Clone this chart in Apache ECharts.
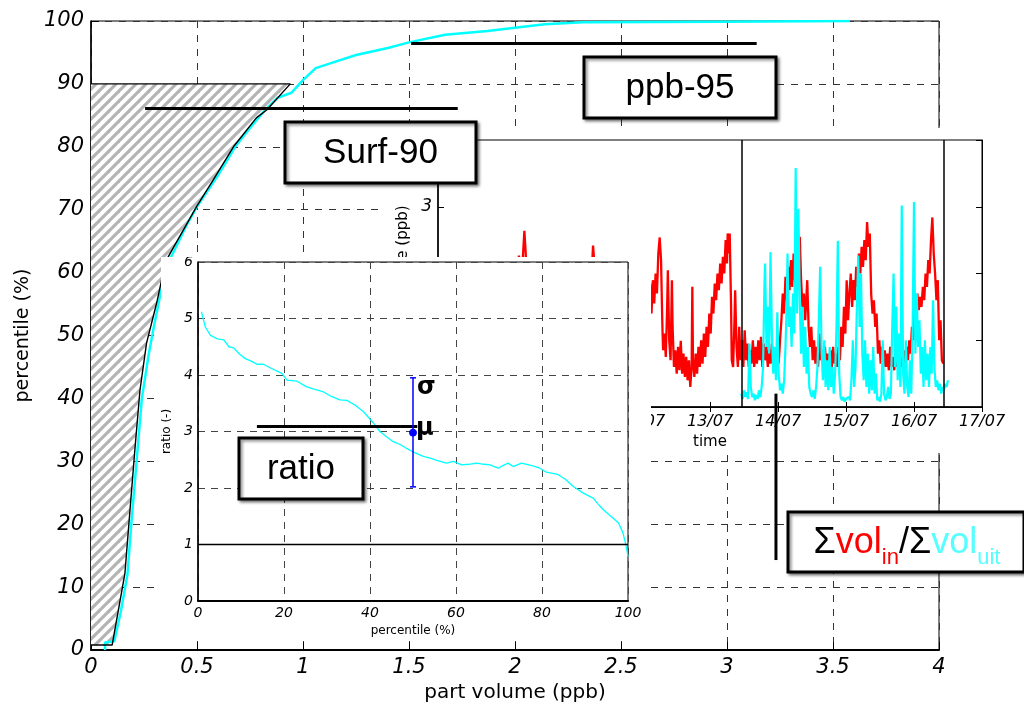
<!DOCTYPE html>
<html><head><meta charset="utf-8">
<script src="https://cdn.jsdelivr.net/npm/echarts@6/dist/echarts.min.js"></script>
<style>
html,body{margin:0;padding:0;background:#fff;}
#wrap{position:relative;width:1024px;height:707px;overflow:hidden;background:#fff;}
.layer{position:absolute;}
</style></head><body>
<div id="wrap">
 <div id="main" class="layer" style="left:0;top:0;width:1024px;height:707px"></div>
 <div id="ts" class="layer" style="left:385px;top:128px;width:639px;height:325px;background:#fff"></div>
 <div id="ratio" class="layer" style="left:161px;top:257px;width:490px;height:384px;background:#fff"></div>
 <div id="over" class="layer" style="left:0;top:0;width:1024px;height:707px"></div>
</div>
<script>
// ---------------- DATA ----------------
// main chart: cumulative distribution of particle volume (ppb -> percentile)
const cdfCurve = [[0.066,0],[0.066,1.2],[0.11,1.4],[0.14,6],[0.172,12],[0.19,20],[0.215,30],[0.24,40],[0.272,47],[0.3,52],[0.33,57],[0.355,61],[0.4,64],[0.45,67.5],[0.5,70.5],[0.55,73],[0.6,75.5],[0.68,80],[0.75,83],[0.82,85.8],[0.88,87.8],[0.946,88.6],[1.0,90.6],[1.06,92.5],[1.15,93.5],[1.25,94.6],[1.4,95.7],[1.5,96.6],[1.67,97.8],[1.87,98.4],[1.99,98.9],[2.14,99.5],[2.32,99.8],[2.97,99.9],[3.58,100]];
// boundary of hatched "Surf-90" area
const surfBoundary = [[0,0.8],[0.1,0.8],[0.16,12.2],[0.208,32.3],[0.231,41.3],[0.262,48.8],[0.31,55.2],[0.34,59.9],[0.364,62.5],[0.498,70.5],[0.576,74.7],[0.672,80],[0.78,84.6],[0.83,85.9],[0.94,90],[0,90]];
const mainXTicks = [0,0.5,1,1.5,2,2.5,3,3.5,4];
const ppbPointer = [[1.51,96.4],[3.14,96.4]];
const surfPointer = [[0.255,86.1],[1.73,86.1]];

// time series inset (day of July, ppb)
const dayLabels = ['09/07','10/07','11/07','12/07','13/07','14/07','15/07','16/07','17/07'];
const periodBounds = [13.46, 16.44];
const redIn = [[9.05,1.2],[9.15,0.9],[9.25,0.7],[9.35,0.6],[9.45,0.8],[9.55,0.7],[9.65,1.0],[9.75,0.9],[9.85,1.3],[9.95,1.5],[10.05,1.4],[10.12,1.8],[10.17,2.0],[10.19,2.27],[10.21,1.9],[10.24,2.1],[10.27,2.64],[10.29,2.3],[10.31,1.6],[10.38,1.2],[10.5,0.8],[10.6,0.7],[10.7,0.6],[10.8,0.8],[10.9,1.0],[11.0,1.3],[11.1,1.6],[11.2,1.9],[11.26,2.0],[11.28,2.42],[11.3,2.15],[11.34,1.7],[11.45,1.0],[11.55,0.8],[11.65,0.7],[11.75,0.6],[11.85,0.8],[11.95,1.1],[12.05,1.4],
[12.10,1.35],[12.12,1.85],[12.14,1.4],[12.16,1.9],[12.18,1.55],[12.20,2.0],[12.22,1.7],[12.24,2.3],[12.26,2.54],[12.28,2.2],[12.30,1.2],[12.31,0.85],[12.33,1.1],[12.35,0.75],[12.37,1.5],[12.38,2.05],[12.40,1.0],[12.42,0.7],[12.44,1.9],[12.45,1.2],[12.47,0.6],[12.49,0.85],[12.51,0.5],[12.53,0.9],[12.55,0.55],[12.57,0.99],[12.59,0.5],[12.61,0.8],[12.63,0.45],[12.65,0.75],[12.67,0.4],[12.69,0.7],[12.71,0.3],[12.73,0.6],[12.74,1.8],[12.75,0.7],[12.77,0.45],[12.79,0.8],[12.81,0.5],[12.83,0.9],[12.85,0.6],[12.87,1.0],[12.89,0.65],[12.91,1.1],[12.93,0.75],[12.95,1.2],[12.97,0.9],[12.99,1.4],[13.01,1.1],[13.03,1.65],[13.05,1.4],[13.07,1.85],[13.09,1.6],[13.11,2.0],[13.13,1.75],[13.15,2.15],[13.17,1.85],[13.19,2.25],[13.21,2.0],[13.23,2.5],[13.25,2.15],[13.26,2.6],[13.28,2.3],[13.29,2.6],[13.31,1.5],[13.32,0.7],[13.34,0.6],[13.36,1.3],[13.37,1.75],[13.39,0.9],[13.41,0.6],[13.43,1.2],[13.45,0.7],
[13.47,1.0],[13.49,0.6],[13.51,1.15],[13.53,0.7],[13.55,0.95],[13.57,0.6],[13.59,0.85],[13.61,0.65],[13.63,1.0],[13.65,0.6],[13.67,0.9],[13.69,0.65],[13.71,1.0],[13.73,0.7],[13.75,1.05],[13.77,0.6],[13.79,0.95],[13.81,0.7],[13.83,0.9],[13.85,0.6],[13.87,0.85],[13.89,0.65],[13.91,0.95],[13.93,0.6],[13.95,0.8],[13.97,0.6],[13.99,0.85],[14.01,0.65],[14.03,1.0],[14.05,1.3],[14.07,1.7],[14.09,1.4],[14.11,1.95],[14.13,1.6],[14.15,2.1],[14.17,1.75],[14.19,2.2],[14.21,1.8],[14.23,2.3],[14.25,1.9],[14.27,2.2],[14.29,2.0],[14.32,2.55],[14.34,1.9],[14.36,1.5],[14.38,1.7],[14.40,1.3],[14.43,1.9],[14.45,1.2],[14.47,0.9],[14.49,1.2],[14.51,0.7],[14.53,1.0],[14.55,0.65],[14.57,0.9],[14.59,0.6],[14.61,1.1],[14.63,0.7],[14.65,0.85],[14.67,0.6],[14.69,0.9],[14.71,0.6],[14.73,0.8],[14.75,0.55],[14.77,0.85],[14.79,0.6],[14.81,0.9],[14.83,0.65],[14.85,0.8],[14.87,0.6],[14.89,0.9],[14.91,0.7],[14.93,1.2],[14.95,0.9],[14.97,1.5],[14.99,1.1],[15.01,1.9],[15.03,1.3],[15.05,1.7],[15.07,2.0],[15.09,1.5],[15.11,1.9],[15.13,1.6],[15.15,2.1],[15.17,1.8],[15.19,2.3],[15.21,2.0],[15.23,2.4],[15.25,2.1],[15.27,2.5],[15.29,2.2],[15.31,2.77],[15.33,2.4],[15.35,2.6],[15.37,1.7],[15.39,1.4],[15.41,1.6],[15.43,1.2],[15.45,1.4],[15.47,0.8],[15.49,1.0],[15.51,0.65],[15.53,0.9],[15.55,0.6],[15.57,0.85],[15.59,0.6],[15.61,0.8],[15.63,0.55],[15.65,0.9],[15.67,0.6],[15.69,0.75],[15.71,0.55],[15.73,0.85],[15.75,0.6],[15.77,0.8],[15.79,0.55],[15.81,0.75],[15.83,0.6],[15.85,0.85],[15.87,0.6],[15.89,0.9],[15.91,0.7],[15.93,1.0],[15.95,0.8],[15.97,1.2],[15.99,1.0],[16.01,1.5],[16.03,1.3],[16.05,1.7],[16.07,1.45],[16.09,1.65],[16.11,1.5],[16.13,1.8],[16.15,1.6],[16.17,2.0],[16.19,1.8],[16.21,2.2],[16.23,2.0],[16.25,2.5],[16.27,2.84],[16.29,2.3],[16.31,2.0],[16.33,1.6],[16.35,1.9],[16.37,1.0],[16.39,1.3],[16.41,0.7],[16.43,0.65]];
const cyanOut = [[13.46,0.2],[13.48,0.12],[13.50,0.25],[13.52,0.15],[13.54,0.22],[13.56,0.12],[13.58,0.95],[13.60,0.3],[13.62,0.15],[13.64,0.2],[13.66,0.1],[13.68,0.18],[13.70,0.12],[13.72,0.25],[13.74,0.15],[13.76,0.3],[13.78,0.6],[13.80,1.8],[13.81,2.15],[13.83,0.9],[13.85,1.5],[13.87,0.8],[13.89,2.32],[13.91,1.1],[13.93,0.5],[13.95,0.9],[13.97,0.4],[13.99,1.42],[14.01,0.5],[14.03,0.25],[14.05,0.35],[14.07,0.2],[14.09,0.4],[14.11,0.9],[14.13,1.6],[14.14,2.3],[14.16,1.2],[14.18,1.5],[14.20,0.9],[14.22,1.7],[14.24,1.1],[14.26,3.58],[14.28,1.4],[14.30,2.97],[14.32,1.6],[14.34,0.8],[14.36,1.5],[14.38,0.6],[14.40,1.2],[14.42,0.5],[14.44,0.9],[14.46,0.3],[14.48,0.2],[14.50,0.15],[14.52,0.25],[14.54,0.12],[14.56,0.3],[14.58,0.6],[14.60,1.3],[14.62,2.1],[14.64,0.9],[14.66,0.4],[14.68,1.0],[14.70,0.3],[14.72,0.7],[14.74,0.25],[14.76,0.9],[14.78,0.3],[14.80,0.6],[14.82,0.2],[14.84,0.5],[14.86,1.2],[14.88,2.49],[14.90,0.5],[14.92,0.15],[14.94,0.1],[14.96,0.15],[14.98,0.08],[15.00,0.12],[15.02,0.1],[15.04,0.15],[15.06,0.1],[15.08,0.4],[15.10,1.0],[15.12,0.3],[15.14,0.6],[15.16,1.5],[15.18,2.27],[15.20,1.2],[15.22,2.0],[15.24,0.8],[15.26,0.4],[15.28,1.0],[15.30,0.3],[15.32,0.8],[15.34,0.2],[15.36,0.7],[15.38,0.25],[15.40,0.9],[15.42,0.2],[15.44,0.5],[15.46,0.1],[15.48,0.15],[15.50,0.08],[15.52,0.2],[15.54,1.0],[15.56,0.2],[15.58,0.1],[15.60,0.15],[15.62,0.3],[15.64,0.12],[15.66,0.2],[15.68,1.2],[15.70,2.0],[15.72,0.6],[15.74,1.5],[15.76,0.4],[15.78,1.1],[15.80,0.3],[15.82,3.02],[15.84,0.5],[15.86,0.2],[15.88,1.0],[15.90,0.3],[15.92,0.15],[15.94,0.7],[15.96,0.2],[15.98,1.2],[16.00,3.07],[16.02,0.8],[16.04,1.7],[16.06,0.9],[16.08,1.3],[16.10,0.5],[16.12,0.9],[16.14,0.3],[16.16,1.0],[16.18,0.4],[16.20,0.8],[16.22,0.3],[16.24,0.9],[16.26,0.5],[16.28,1.6],[16.30,0.6],[16.32,0.3],[16.34,0.4],[16.36,0.25],[16.38,0.35],[16.40,0.2],[16.42,0.3],[16.44,0.25],[16.46,0.35],[16.48,0.3],[16.50,0.4]];
const sumVolPointer = {day: 13.97, top: 0.2, bottomPct: 14.3};

// ratio inset (percentile %, ratio in/out)
const ratioCurve = [[0.8,5.12],[1.7,4.85],[2.9,4.7],[4.5,4.64],[6,4.62],[7.2,4.5],[8.3,4.48],[9.5,4.38],[11,4.29],[12.5,4.24],[13.7,4.19],[15.2,4.19],[17,4.12],[19.5,4.03],[20.7,3.91],[23,3.89],[25.3,3.79],[27,3.75],[29.2,3.7],[31,3.62],[33,3.56],[34.6,3.55],[36.5,3.47],[38.5,3.35],[40.8,3.15],[42.3,3.0],[44,2.9],[45.4,2.82],[47,2.77],[48.5,2.7],[50.5,2.62],[52.4,2.56],[54,2.53],[55.5,2.49],[57.8,2.44],[59.4,2.47],[61.3,2.41],[63,2.42],[64.8,2.44],[66.5,2.42],[67.9,2.41],[69.8,2.35],[71,2.4],[72.1,2.44],[73.3,2.38],[75.2,2.44],[77.9,2.39],[79.5,2.35],[81,2.28],[83.7,2.24],[85.5,2.15],[87.2,2.03],[89.6,1.91],[91.9,1.82],[93,1.72],[94.2,1.62],[96.5,1.47],[97.8,1.38],[98.8,1.21],[99.5,1.0],[100,0.79]];
const ratioStats = [[50, 2.98, 2.02, 3.95]]; // x, mean, mean-sigma, mean+sigma
const ratioPointer = [[13.7,3.1],[51,3.1]];
const unityLine = 1;

// ---------------- STYLE HELPERS ----------------
const FONT = 'DejaVu Sans';
const ARIAL = 'Liberation Sans';
function makeHatch(){
  const c = document.createElement('canvas'); c.width = 10; c.height = 10;
  const g = c.getContext('2d');
  g.fillStyle = '#fff'; g.fillRect(0,0,10,10);
  g.strokeStyle = '#b4b4b4'; g.lineWidth = 3.2;
  [0,10,20].forEach(k => { g.beginPath(); g.moveTo(k-15,15); g.lineTo(k+5,-5); g.stroke(); });
  return c;
}
const hatch = {image: makeHatch(), repeat: 'repeat'};
const dash = [7,7];

// ---------------- MAIN CHART ----------------
const main = echarts.init(document.getElementById('main'));
main.setOption({
  animation: false,
  grid: {left: 91, right: 85, top: 21, bottom: 57, show: true, borderColor: '#000', borderWidth: 1, containLabel: false, outerBoundsMode: 'none'},
  xAxis: {type: 'value', min: 0, max: 4, interval: 0.5,
    name: 'part volume (ppb)', nameLocation: 'middle', nameGap: 29,
    nameTextStyle: {fontFamily: FONT, fontSize: 20, color: '#000'},
    axisLine: {lineStyle: {color: '#000', width: 2}},
    axisTick: {inside: true, length: 8, lineStyle: {color: '#000', width: 1}},
    axisLabel: {fontFamily: FONT, fontStyle: 'italic', fontSize: 21, color: '#000', margin: 7,
      formatter: v => String(mainXTicks[Math.round(v/0.5)])},
    splitLine: {show: true, lineStyle: {type: dash, color: '#333', width: 1}}},
  yAxis: {type: 'value', min: 0, max: 100, interval: 10,
    name: 'percentile (%)', nameLocation: 'middle', nameGap: 56, nameRotate: 90,
    nameTextStyle: {fontFamily: FONT, fontSize: 19, color: '#000'},
    axisLine: {lineStyle: {color: '#000', width: 1.5}},
    axisTick: {inside: true, length: 8, lineStyle: {color: '#000'}},
    axisLabel: {fontFamily: FONT, fontStyle: 'italic', fontSize: 21, color: '#000', margin: 7},
    splitLine: {show: true, lineStyle: {type: dash, color: '#333', width: 1}}},
  series: [
    {type: 'custom', z: 2, silent: true, data: surfBoundary,
      renderItem: (params, api) => {
        if (params.dataIndex !== 0) return null;
        const pts = surfBoundary.map(p => api.coord(p));
        return {type: 'polygon', shape: {points: pts}, style: {fill: hatch, stroke: null}};
      }},
    {type: 'line', z: 3, data: cdfCurve, showSymbol: false, symbol: 'none',
      lineStyle: {color: '#00ffff', width: 2.5}},
    {type: 'line', z: 4, data: surfBoundary, showSymbol: false, symbol: 'none',
      lineStyle: {color: '#000', width: 1.4},
      markLine: {silent: true, symbol: ['none','none'], label: {show: false},
        lineStyle: {color: '#000', width: 3, type: 'solid'},
        data: [[{coord: ppbPointer[0]}, {coord: ppbPointer[1]}], [{coord: surfPointer[0]}, {coord: surfPointer[1]}]]}}
  ]
});

// ---------------- TIME SERIES INSET ----------------
const ts = echarts.init(document.getElementById('ts'));
const tsTickLabel = v => dayLabels[Math.round(v) - 9] || '';
ts.setOption({
  animation: false, backgroundColor: '#fff',
  grid: {left: 53, right: 42, top: 12, bottom: 46, show: true, borderColor: '#000', borderWidth: 1, containLabel: false, outerBoundsMode: 'none'},
  xAxis: [
    {type: 'value', min: 9, max: 17, interval: 1, position: 'bottom',
      name: 'time', nameLocation: 'middle', nameGap: 24,
      nameTextStyle: {fontFamily: FONT, fontSize: 15, color: '#000'},
      axisLine: {lineStyle: {color: '#000', width: 1.5}},
      axisTick: {inside: true, length: 5, lineStyle: {color: '#000'}},
      axisLabel: {fontFamily: FONT, fontStyle: 'italic', fontSize: 16, color: '#000', margin: 7, formatter: tsTickLabel},
      splitLine: {show: false}},
    {type: 'value', min: 9, max: 17, interval: 1, position: 'top',
      axisLine: {lineStyle: {color: '#000'}}, axisTick: {inside: true, length: 5, lineStyle: {color: '#000'}},
      axisLabel: {show: false}, splitLine: {show: false}}
  ],
  yAxis: [
    {type: 'value', min: 0, max: 4, interval: 1, position: 'left',
      name: 'part volume (ppb)', nameLocation: 'middle', nameGap: 23, nameRotate: 90,
      nameTextStyle: {fontFamily: FONT, fontSize: 15, color: '#000'},
      axisLine: {lineStyle: {color: '#000', width: 1.5}},
      axisTick: {inside: true, length: 6, lineStyle: {color: '#000'}},
      axisLabel: {fontFamily: FONT, fontStyle: 'italic', fontSize: 17, color: '#000', margin: 6},
      splitLine: {show: false}},
    {type: 'value', min: 0, max: 4, interval: 1, position: 'right',
      axisLine: {lineStyle: {color: '#000'}}, axisTick: {inside: true, length: 6, lineStyle: {color: '#000'}},
      axisLabel: {show: false}, splitLine: {show: false}}
  ],
  series: [
    {type: 'line', data: redIn, showSymbol: false, symbol: 'none', z: 2,
      lineStyle: {color: '#ff0000', width: 2.3},
      markLine: {silent: true, symbol: ['none','none'], label: {show: false},
        lineStyle: {color: '#000', width: 1.5, type: 'solid'},
        data: periodBounds.map(d => ({xAxis: d}))}},
    {type: 'line', data: cyanOut, showSymbol: false, symbol: 'none', z: 3,
      lineStyle: {color: '#00ffff', width: 2.2}}
  ]
});

// ---------------- RATIO INSET ----------------
const ratio = echarts.init(document.getElementById('ratio'));
ratio.setOption({
  animation: false, backgroundColor: '#fff',
  grid: {left: 37, right: 23, top: 5, bottom: 40, show: true, borderColor: '#000', borderWidth: 1, containLabel: false, outerBoundsMode: 'none'},
  xAxis: {type: 'value', min: 0, max: 100, interval: 20,
    name: 'percentile (%)', nameLocation: 'middle', nameGap: 22,
    nameTextStyle: {fontFamily: FONT, fontSize: 12, color: '#000'},
    axisLine: {lineStyle: {color: '#000', width: 2}},
    axisTick: {show: false},
    axisLabel: {fontFamily: FONT, fontStyle: 'italic', fontSize: 14, color: '#000', margin: 5},
    splitLine: {show: true, lineStyle: {type: [7,6], color: '#444', width: 1}}},
  yAxis: {type: 'value', min: 0, max: 6, interval: 1,
    name: 'ratio (-)', nameLocation: 'middle', nameGap: 18, nameRotate: 90,
    nameTextStyle: {fontFamily: FONT, fontSize: 12, color: '#000'},
    axisLine: {lineStyle: {color: '#000', width: 1.5}},
    axisTick: {show: false},
    axisLabel: {fontFamily: FONT, fontStyle: 'italic', fontSize: 14, color: '#000', margin: 5},
    splitLine: {show: true, lineStyle: {type: [7,6], color: '#444', width: 1}}},
  series: [
    {type: 'line', data: ratioCurve, showSymbol: false, symbol: 'none', z: 3,
      lineStyle: {color: '#00ffff', width: 1.3},
      markLine: {silent: true, symbol: ['none','none'], label: {show: false},
        data: [
          {yAxis: unityLine, lineStyle: {color: '#000', width: 1.3, type: 'solid'}},
          [{coord: ratioPointer[0], lineStyle: {color: '#000', width: 3, type: 'solid'}}, {coord: ratioPointer[1]}]
        ]}},
    {type: 'custom', z: 5, silent: true, data: ratioStats,
      renderItem: (params, api) => {
        const x = api.value(0);
        const pm = api.coord([x, api.value(1)]);
        const pl = api.coord([x, api.value(2)]);
        const ph = api.coord([x, api.value(3)]);
        const blue = '#0000ff';
        return {type: 'group', children: [
          {type: 'line', shape: {x1: pm[0], y1: pl[1], x2: pm[0], y2: ph[1]}, style: {stroke: blue, lineWidth: 1.5}},
          {type: 'line', shape: {x1: pm[0]-3, y1: pl[1], x2: pm[0]+3, y2: pl[1]}, style: {stroke: blue, lineWidth: 1.5}},
          {type: 'line', shape: {x1: pm[0]-3, y1: ph[1], x2: pm[0]+3, y2: ph[1]}, style: {stroke: blue, lineWidth: 1.5}},
          {type: 'circle', shape: {cx: pm[0], cy: pm[1], r: 3.5}, style: {fill: blue, stroke: blue}},
          {type: 'text', x: pm[0]+4, y: ph[1]+10, style: {text: 'σ', fontFamily: FONT, fontWeight: 'bold', fontSize: 24, fill: '#000', align: 'left', verticalAlign: 'middle'}},
          {type: 'text', x: pm[0]+3, y: pm[1]-4, style: {text: 'μ', fontFamily: FONT, fontWeight: 'bold', fontSize: 24, fill: '#000', align: 'left', verticalAlign: 'middle'}}
        ]};
      }}
  ]
});

// ---------------- ANNOTATION OVERLAY ----------------
const over = echarts.init(document.getElementById('over'));
const tsTop = ts.convertToPixel({seriesIndex: 0}, [sumVolPointer.day, sumVolPointer.top]);
const mainBottom = main.convertToPixel({seriesIndex: 1}, [0, sumVolPointer.bottomPct]);
const pointerX = tsTop[0] + 385, pointerY1 = tsTop[1] + 128, pointerY2 = mainBottom[1];
const boxStyle = {fill: '#fff', stroke: '#000', lineWidth: 3, shadowBlur: 3, shadowColor: 'rgba(0,0,0,0.45)', shadowOffsetX: 2, shadowOffsetY: 2};
function labelBox(x, y, w, h, text){
  return [
    {type: 'rect', shape: {x, y, width: w, height: h}, style: boxStyle, z: 10},
    {type: 'text', x: x + w/2, y: y + h/2 + 1, z: 11,
      style: {text, fontFamily: ARIAL, fontSize: 35, fill: '#000', align: 'center', verticalAlign: 'middle'}}
  ];
}
over.setOption({
  animation: false,
  graphic: {elements: [
    ...labelBox(584, 57, 192, 61, 'ppb-95'),
    ...labelBox(285, 122, 191, 61, 'Surf-90'),
    ...labelBox(239, 438, 124, 61, 'ratio'),
    {type: 'line', shape: {x1: pointerX, y1: pointerY1, x2: pointerX, y2: pointerY2}, style: {stroke: '#000', lineWidth: 3}, z: 10},
    {type: 'rect', shape: {x: 788, y: 512, width: 236, height: 60}, style: boxStyle, z: 10},
    {type: 'text', x: 907, y: 543, z: 11, style: {
      text: '{k|Σ}{r|vol}{rs|in}{k|/Σ}{c|vol}{cs|uit}',
      align: 'center', verticalAlign: 'middle',
      rich: {
        k: {fontFamily: ARIAL, fontSize: 36, fill: '#000', lineHeight: 52},
        r: {fontFamily: ARIAL, fontSize: 36, fill: '#ff0000', lineHeight: 52},
        rs: {fontFamily: ARIAL, fontSize: 22, fill: '#ff0000', verticalAlign: 'bottom'},
        c: {fontFamily: ARIAL, fontSize: 36, fill: '#55ffff', lineHeight: 52},
        cs: {fontFamily: ARIAL, fontSize: 22, fill: '#55ffff', verticalAlign: 'bottom'}
      }}}
  ]}
});
</script>
</body></html>
